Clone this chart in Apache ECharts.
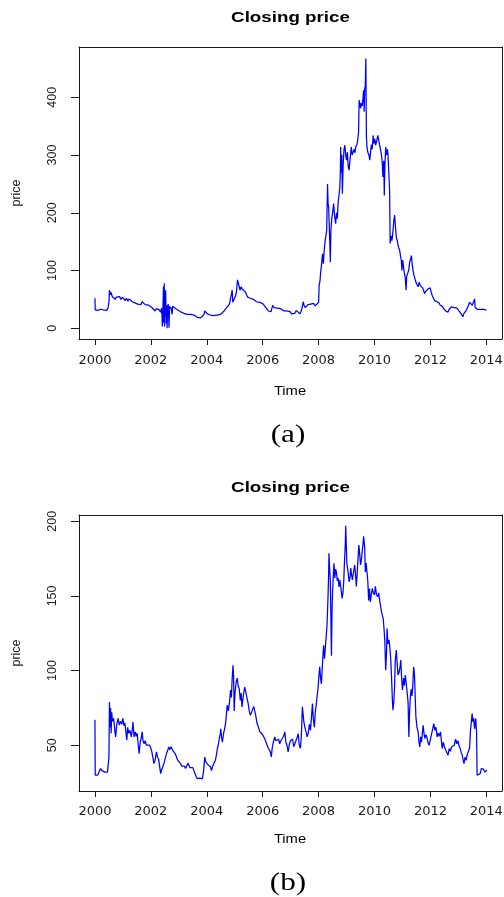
<!DOCTYPE html>
<html>
<head>
<meta charset="utf-8">
<title>Closing price</title>
<script src="https://cdn.jsdelivr.net/npm/echarts@6/dist/echarts.min.js"></script>
<style>
  html, body { margin: 0; padding: 0; background: #fff; }
  #chart { width: 504px; height: 897px; }
</style>
</head>
<body>
<div id="chart"></div>
<script>
// Tick values for the two panels
const yearTicks = [2000, 2002, 2004, 2006, 2008, 2010, 2012, 2014];
const priceTicksA = [0, 100, 200, 300, 400];
const priceTicksB = [50, 100, 150, 200];

// Panel (a): closing price, [year, price]
const closeA = [
  [2000.00, 52], [2000.01, 32], [2000.05, 33], [2000.10, 31], [2000.15, 34], [2000.20, 33],
  [2000.25, 35], [2000.30, 32], [2000.36, 30], [2000.42, 31], [2000.47, 36], [2000.50, 45],
  [2000.52, 66], [2000.55, 58], [2000.58, 62], [2000.62, 55], [2000.67, 57], [2000.72, 50],
  [2000.76, 54], [2000.82, 52], [2000.88, 55], [2000.93, 50], [2000.98, 54], [2001.04, 53],
  [2001.08, 48], [2001.13, 52], [2001.18, 47], [2001.23, 51], [2001.28, 49], [2001.33, 46],
  [2001.38, 49], [2001.43, 44], [2001.48, 46], [2001.53, 42], [2001.58, 44], [2001.64, 41],
  [2001.69, 46], [2001.74, 43], [2001.80, 41], [2001.86, 38], [2001.92, 40], [2001.98, 37],
  [2002.04, 36], [2002.10, 33], [2002.15, 30], [2002.20, 34], [2002.25, 36], [2002.30, 32],
  [2002.35, 28], [2002.38, 35], [2002.40, 21], [2002.41, 3], [2002.43, 30], [2002.45, 72],
  [2002.46, 10], [2002.48, 78], [2002.49, 3], [2002.50, 60], [2002.51, 20], [2002.53, 66],
  [2002.55, 8], [2002.57, 40], [2002.58, 0], [2002.60, 34], [2002.62, 42], [2002.65, 1],
  [2002.67, 38], [2002.70, 36], [2002.73, 34], [2002.76, 24], [2002.78, 38], [2002.85, 35],
  [2002.92, 33], [2002.99, 31], [2003.05, 29], [2003.12, 27], [2003.18, 26], [2003.24, 27],
  [2003.30, 24], [2003.36, 25], [2003.42, 24], [2003.48, 25], [2003.54, 23], [2003.60, 21],
  [2003.66, 19], [2003.72, 20], [2003.78, 18], [2003.84, 20], [2003.90, 24], [2003.93, 30],
  [2003.97, 27], [2004.02, 25], [2004.08, 26], [2004.13, 23], [2004.19, 24], [2004.25, 22],
  [2004.31, 24], [2004.37, 23], [2004.43, 25], [2004.49, 24], [2004.55, 26], [2004.60, 29],
  [2004.65, 32], [2004.70, 35], [2004.76, 38], [2004.81, 42], [2004.86, 40], [2004.91, 66],
  [2004.93, 45], [2004.97, 48], [2005.02, 55], [2005.06, 62], [2005.10, 84], [2005.13, 87],
  [2005.16, 72], [2005.19, 66], [2005.23, 72], [2005.27, 68], [2005.31, 70], [2005.36, 64],
  [2005.41, 60], [2005.46, 54], [2005.50, 57], [2005.56, 52], [2005.62, 55], [2005.67, 50],
  [2005.72, 48], [2005.78, 46], [2005.84, 44], [2005.90, 45], [2005.96, 43], [2006.02, 42],
  [2006.08, 38], [2006.14, 34], [2006.20, 30], [2006.25, 28], [2006.30, 29], [2006.36, 40],
  [2006.40, 36], [2006.46, 38], [2006.52, 35], [2006.58, 37], [2006.64, 34], [2006.70, 32],
  [2006.76, 30], [2006.80, 28], [2006.86, 30], [2006.92, 27], [2006.98, 29], [2007.03, 25],
  [2007.09, 28], [2007.15, 26], [2007.20, 31], [2007.26, 28], [2007.33, 25], [2007.38, 30],
  [2007.42, 38], [2007.45, 46], [2007.48, 40], [2007.52, 36], [2007.57, 38], [2007.62, 41],
  [2007.67, 39], [2007.72, 42], [2007.77, 40], [2007.82, 43], [2007.88, 39], [2007.94, 37],
  [2008.00, 45], [2008.02, 75], [2008.05, 82], [2008.07, 95], [2008.10, 108], [2008.12, 118],
  [2008.14, 129], [2008.17, 112], [2008.20, 135], [2008.23, 150], [2008.26, 147], [2008.29, 170],
  [2008.32, 250], [2008.34, 215], [2008.36, 210], [2008.38, 180], [2008.40, 150], [2008.42, 115],
  [2008.44, 170], [2008.47, 190], [2008.50, 200], [2008.54, 216], [2008.57, 195], [2008.61, 181],
  [2008.64, 200], [2008.67, 190], [2008.70, 219], [2008.73, 230], [2008.76, 245], [2008.78, 275],
  [2008.79, 314], [2008.81, 270], [2008.83, 300], [2008.85, 233], [2008.88, 285], [2008.91, 310],
  [2008.94, 317], [2008.97, 300], [2009.00, 291], [2009.03, 305], [2009.06, 280], [2009.09, 274],
  [2009.12, 290], [2009.15, 305], [2009.17, 314], [2009.20, 300], [2009.23, 298], [2009.27, 310],
  [2009.30, 304], [2009.33, 314], [2009.37, 318], [2009.40, 326], [2009.43, 340], [2009.45, 395],
  [2009.48, 388], [2009.50, 381], [2009.53, 390], [2009.56, 385], [2009.59, 400], [2009.61, 412],
  [2009.63, 375], [2009.65, 415], [2009.67, 420], [2009.69, 467], [2009.70, 400], [2009.71, 332],
  [2009.73, 314], [2009.76, 305], [2009.80, 300], [2009.83, 291], [2009.86, 305], [2009.89, 318],
  [2009.92, 310], [2009.95, 334], [2009.98, 320], [2010.01, 328], [2010.04, 317], [2010.08, 325],
  [2010.12, 334], [2010.15, 326], [2010.18, 318], [2010.22, 308], [2010.25, 300], [2010.28, 285],
  [2010.30, 262], [2010.33, 290], [2010.35, 230], [2010.37, 280], [2010.40, 314], [2010.43, 300],
  [2010.46, 310], [2010.48, 303], [2010.51, 300], [2010.54, 239], [2010.56, 147], [2010.59, 160],
  [2010.62, 152], [2010.64, 158], [2010.67, 175], [2010.70, 190], [2010.72, 196], [2010.75, 175],
  [2010.78, 158], [2010.82, 150], [2010.86, 140], [2010.90, 135], [2010.93, 125], [2010.96, 117],
  [2010.98, 100], [2011.01, 118], [2011.04, 105], [2011.07, 95], [2011.10, 88], [2011.13, 66],
  [2011.15, 90], [2011.18, 89], [2011.22, 100], [2011.26, 115], [2011.29, 120], [2011.32, 126],
  [2011.35, 110], [2011.38, 100], [2011.41, 92], [2011.44, 89], [2011.48, 80], [2011.52, 76],
  [2011.56, 72], [2011.60, 80], [2011.64, 74], [2011.68, 77], [2011.72, 70], [2011.76, 65],
  [2011.79, 60], [2011.83, 64], [2011.87, 62], [2011.91, 68], [2011.95, 66], [2011.99, 70],
  [2012.03, 62], [2012.07, 56], [2012.11, 52], [2012.15, 48], [2012.19, 50], [2012.23, 46],
  [2012.27, 43], [2012.31, 44], [2012.35, 40], [2012.39, 37], [2012.43, 38], [2012.47, 34],
  [2012.51, 31], [2012.55, 30], [2012.59, 32], [2012.63, 28], [2012.67, 33], [2012.71, 35],
  [2012.75, 37], [2012.80, 35], [2012.85, 36], [2012.90, 34], [2012.95, 35], [2012.98, 34],
  [2013.02, 30], [2013.06, 28], [2013.10, 25], [2013.14, 22], [2013.16, 20], [2013.19, 25],
  [2013.23, 28], [2013.28, 31], [2013.32, 35], [2013.36, 40], [2013.40, 45], [2013.43, 42],
  [2013.46, 44], [2013.50, 40], [2013.54, 42], [2013.58, 51], [2013.60, 36], [2013.63, 34],
  [2013.68, 33], [2013.74, 35], [2013.80, 33], [2013.86, 32], [2013.92, 33], [2013.97, 31],
  [2014.00, 31]
];

// Panel (b): closing price, [year, price]
const closeB = [
  [2000.00, 67], [2000.01, 30], [2000.05, 29.5], [2000.10, 30], [2000.15, 31], [2000.20, 34.4],
  [2000.25, 33], [2000.30, 34], [2000.35, 32], [2000.40, 33], [2000.45, 32], [2000.48, 38],
  [2000.50, 42], [2000.52, 79], [2000.54, 62], [2000.56, 75], [2000.58, 58], [2000.60, 72],
  [2000.63, 66], [2000.67, 68], [2000.71, 60], [2000.74, 55.6], [2000.78, 64], [2000.83, 68],
  [2000.87, 63.6], [2000.92, 66], [2000.96, 64], [2001.00, 68], [2001.04, 63], [2001.07, 65],
  [2001.10, 60], [2001.14, 53.4], [2001.17, 62], [2001.21, 58], [2001.25, 60], [2001.30, 55.6],
  [2001.34, 61], [2001.36, 65.6], [2001.40, 55.6], [2001.44, 59], [2001.48, 56], [2001.51, 58],
  [2001.55, 50], [2001.58, 44.4], [2001.62, 52], [2001.66, 55], [2001.69, 59], [2001.72, 53],
  [2001.76, 51], [2001.80, 53], [2001.84, 50], [2001.87, 51], [2001.91, 49], [2001.95, 50],
  [2001.99, 48.6], [2002.03, 46], [2002.07, 42], [2002.11, 37.7], [2002.15, 40], [2002.20, 45.5],
  [2002.24, 42], [2002.28, 40.5], [2002.32, 35], [2002.35, 31], [2002.39, 34], [2002.43, 35.6],
  [2002.47, 38], [2002.50, 40], [2002.53, 42.4], [2002.57, 45], [2002.61, 47], [2002.64, 48.9],
  [2002.68, 47], [2002.72, 49], [2002.76, 48.9], [2002.80, 46], [2002.84, 45], [2002.88, 44],
  [2002.92, 42], [2002.96, 40], [2003.01, 39], [2003.06, 37.7], [2003.10, 36], [2003.15, 35],
  [2003.20, 36], [2003.24, 34.4], [2003.28, 36], [2003.33, 38], [2003.36, 37.7], [2003.40, 35],
  [2003.45, 34], [2003.50, 35], [2003.54, 33], [2003.58, 31], [2003.62, 29], [2003.66, 27.6],
  [2003.70, 28.5], [2003.75, 28], [2003.80, 27], [2003.84, 27.5], [2003.88, 32], [2003.91, 38],
  [2003.93, 42], [2003.96, 39], [2004.00, 40], [2004.04, 37], [2004.09, 38], [2004.13, 35.6],
  [2004.17, 33], [2004.21, 36], [2004.26, 38], [2004.31, 40], [2004.35, 44], [2004.38, 48],
  [2004.41, 50], [2004.45, 55], [2004.48, 57], [2004.50, 61], [2004.53, 55], [2004.56, 52],
  [2004.60, 58], [2004.64, 61], [2004.68, 66], [2004.71, 72], [2004.73, 76.8], [2004.77, 73],
  [2004.81, 78], [2004.85, 87], [2004.88, 82], [2004.91, 95], [2004.94, 103.6], [2004.96, 96],
  [2004.98, 73], [2005.01, 85], [2005.05, 92], [2005.09, 95], [2005.12, 90], [2005.16, 88],
  [2005.20, 80], [2005.23, 85], [2005.26, 75.7], [2005.30, 82], [2005.33, 86], [2005.36, 89],
  [2005.40, 88], [2005.44, 81.6], [2005.48, 78], [2005.52, 73], [2005.56, 70], [2005.60, 72],
  [2005.64, 74], [2005.68, 76], [2005.71, 75], [2005.75, 70], [2005.80, 64.5], [2005.85, 62],
  [2005.90, 59], [2005.95, 60], [2006.00, 57], [2006.04, 56], [2006.08, 54], [2006.12, 52],
  [2006.16, 50], [2006.20, 48], [2006.25, 46.6], [2006.28, 45], [2006.31, 42.2], [2006.34, 48],
  [2006.38, 52], [2006.43, 55.6], [2006.47, 53], [2006.52, 52], [2006.57, 54], [2006.61, 51],
  [2006.65, 53], [2006.70, 54], [2006.75, 56], [2006.79, 59], [2006.83, 52], [2006.87, 50],
  [2006.91, 45.5], [2006.95, 50], [2006.99, 53], [2007.03, 52], [2007.07, 54], [2007.11, 49],
  [2007.15, 51], [2007.19, 53], [2007.23, 55], [2007.27, 57.8], [2007.31, 50], [2007.35, 48],
  [2007.38, 55], [2007.42, 75.7], [2007.44, 72], [2007.47, 66], [2007.51, 62], [2007.55, 59],
  [2007.59, 55.6], [2007.63, 58], [2007.67, 64], [2007.71, 60], [2007.75, 70], [2007.78, 78],
  [2007.81, 68], [2007.85, 62], [2007.88, 72], [2007.92, 78], [2007.95, 83.5], [2007.98, 88],
  [2008.01, 96], [2008.04, 102.5], [2008.07, 95], [2008.10, 91], [2008.14, 105], [2008.18, 117],
  [2008.21, 108], [2008.24, 115], [2008.27, 122.6], [2008.30, 130], [2008.32, 140], [2008.34, 151.7],
  [2008.36, 165], [2008.37, 178.6], [2008.39, 170], [2008.42, 159.5], [2008.44, 135], [2008.46, 110],
  [2008.48, 140], [2008.50, 153], [2008.53, 165], [2008.55, 171.9], [2008.58, 162], [2008.61, 168],
  [2008.64, 165.6], [2008.67, 160], [2008.70, 162], [2008.73, 156], [2008.76, 160.7], [2008.80, 155],
  [2008.84, 148.4], [2008.87, 151.7], [2008.90, 160], [2008.93, 175], [2008.95, 182], [2008.97, 197],
  [2008.99, 185], [2009.01, 171.9], [2009.04, 168], [2009.06, 165], [2009.09, 159.5], [2009.12, 162],
  [2009.15, 168.6], [2009.18, 164], [2009.21, 160.7], [2009.25, 166], [2009.29, 170.7], [2009.32, 165],
  [2009.35, 156.4], [2009.38, 165], [2009.41, 175], [2009.44, 184], [2009.47, 178], [2009.50, 170.7],
  [2009.53, 174], [2009.56, 179.8], [2009.59, 185], [2009.61, 190], [2009.63, 190.8], [2009.65, 182],
  [2009.67, 166], [2009.70, 172], [2009.73, 170.7], [2009.76, 160], [2009.79, 147], [2009.82, 155],
  [2009.85, 146], [2009.88, 150], [2009.92, 155], [2009.96, 152], [2010.00, 150.6], [2010.03, 156.5],
  [2010.07, 151], [2010.11, 149.5], [2010.15, 152], [2010.19, 146], [2010.22, 143], [2010.25, 139.3],
  [2010.28, 137], [2010.31, 135], [2010.34, 128], [2010.37, 119.3], [2010.40, 100.3], [2010.43, 112],
  [2010.45, 128.2], [2010.48, 118], [2010.52, 120.6], [2010.55, 115], [2010.58, 108], [2010.61, 95],
  [2010.64, 80], [2010.66, 73.5], [2010.69, 79], [2010.72, 90], [2010.74, 106], [2010.78, 113.7],
  [2010.81, 105], [2010.84, 97], [2010.88, 99], [2010.91, 102], [2010.94, 107], [2010.97, 95],
  [2011.00, 87], [2011.04, 95], [2011.07, 90], [2011.10, 97], [2011.13, 92], [2011.17, 85],
  [2011.20, 79], [2011.23, 55.6], [2011.25, 70], [2011.28, 82], [2011.31, 87.5], [2011.34, 83],
  [2011.37, 90], [2011.40, 102.5], [2011.43, 97], [2011.46, 80], [2011.48, 69], [2011.52, 62],
  [2011.56, 59], [2011.59, 52], [2011.62, 48.9], [2011.65, 55.6], [2011.68, 52], [2011.71, 58],
  [2011.74, 63.4], [2011.77, 58], [2011.80, 54.5], [2011.84, 57], [2011.88, 55], [2011.91, 52],
  [2011.95, 50], [2011.99, 53], [2012.03, 56.7], [2012.07, 60], [2012.12, 64.5], [2012.16, 60],
  [2012.20, 62], [2012.24, 55.6], [2012.28, 58], [2012.32, 56], [2012.36, 59], [2012.39, 59],
  [2012.42, 47.8], [2012.46, 52], [2012.50, 49], [2012.54, 47], [2012.58, 46], [2012.63, 43.3],
  [2012.67, 47.8], [2012.71, 46], [2012.76, 49], [2012.80, 48], [2012.85, 50], [2012.90, 54],
  [2012.94, 51], [2012.98, 53], [2013.02, 50], [2013.06, 48], [2013.10, 45], [2013.14, 43.3],
  [2013.17, 40], [2013.20, 37.7], [2013.24, 42], [2013.28, 40], [2013.32, 44], [2013.36, 43],
  [2013.40, 48], [2013.43, 59], [2013.46, 65], [2013.49, 71.3], [2013.52, 65.7], [2013.55, 68],
  [2013.58, 61], [2013.62, 67.9], [2013.65, 59], [2013.67, 29.9], [2013.70, 30], [2013.74, 29.5],
  [2013.78, 31], [2013.82, 34.4], [2013.86, 33.3], [2013.90, 34], [2013.94, 32], [2013.98, 33],
  [2014.02, 33.3]
];

const INK = '#1a1a1a';
const LINE_BLUE = '#0000ff';
const X_MIN = 1999.43;
const X_MAX = 2014.56;

function xAxisFor(gridIndex, labelMargin) {
  return {
    type: 'value',
    gridIndex: gridIndex,
    position: 'bottom',
    min: X_MIN,
    max: X_MAX,
    splitLine: { show: false },
    axisLine: { show: true, onZero: false, lineStyle: { color: INK, width: 1 } },
    axisTick: { show: true, length: 6, customValues: yearTicks, lineStyle: { color: INK } },
    axisLabel: {
      customValues: yearTicks,
      formatter: function (v) { return String(v); },
      margin: labelMargin,
      fontFamily: 'DejaVu Sans',
      fontSize: 13,
      color: INK
    }
  };
}

// Plain edges that close the plot frame on the top and right sides
function frameX(gridIndex) {
  return {
    type: 'value', gridIndex: gridIndex, position: 'top', min: X_MIN, max: X_MAX,
    splitLine: { show: false }, axisTick: { show: false }, axisLabel: { show: false },
    axisLine: { show: true, onZero: false, lineStyle: { color: INK, width: 1 } }
  };
}
function frameY(gridIndex, min, max) {
  return {
    type: 'value', gridIndex: gridIndex, position: 'right', min: min, max: max,
    splitLine: { show: false }, axisTick: { show: false }, axisLabel: { show: false },
    axisLine: { show: true, onZero: false, lineStyle: { color: INK, width: 1 } }
  };
}

// Left price axis: labels come from the axis' own nice ticks (interval 100 / 50),
// the unrounded extent labels at both ends are hidden.
function yAxisFor(gridIndex, min, max, ticks, splitNumber) {
  return {
    type: 'value',
    gridIndex: gridIndex,
    position: 'left',
    min: min,
    max: max,
    splitNumber: splitNumber,
    splitLine: { show: false },
    axisLine: { show: true, onZero: false, lineStyle: { color: INK, width: 1 } },
    axisTick: { show: true, length: 8, customValues: ticks, lineStyle: { color: INK } },
    axisLabel: {
      formatter: function (v) { return String(v); },
      rotate: 90,
      margin: 20,
      fontFamily: 'Liberation Sans',
      fontSize: 12.5,
      color: INK,
      showMinLabel: false,
      showMaxLabel: false
    },
    name: 'price',
    nameLocation: 'middle',
    nameGap: 56,
    nameRotate: 90,
    nameTextStyle: { fontFamily: 'Liberation Sans', fontSize: 12.5, color: INK }
  };
}

function label(text, x, y, font, scaleX) {
  return {
    type: 'text',
    x: x,
    y: y,
    scaleX: scaleX,
    silent: true,
    style: {
      text: text,
      font: font,
      fill: '#000',
      align: 'center',
      verticalAlign: 'middle'
    }
  };
}

const gridBase = {
  left: 79,
  width: 423,
  show: false,
  containLabel: false,
  outerBoundsMode: 'none'
};

const option = {
  animation: false,
  backgroundColor: '#fff',
  grid: [
    Object.assign({ top: 47, height: 292 }, gridBase),
    Object.assign({ top: 515, height: 276 }, gridBase)
  ],
  xAxis: [xAxisFor(0, 15), xAxisFor(1, 14), frameX(0), frameX(1)],
  yAxis: [
    yAxisFor(0, -18.5, 487.1, priceTicksA, 5),
    yAxisFor(1, 19.35, 204.2, priceTicksB, 4),
    frameY(0, -18.5, 487.1),
    frameY(1, 19.35, 204.2)
  ],
  series: [
    {
      type: 'line',
      xAxisIndex: 0,
      yAxisIndex: 0,
      data: closeA,
      symbol: 'none',
      lineStyle: { color: LINE_BLUE, width: 1.25 },
      silent: true
    },
    {
      type: 'line',
      xAxisIndex: 1,
      yAxisIndex: 1,
      data: closeB,
      symbol: 'none',
      lineStyle: { color: LINE_BLUE, width: 1.25 },
      silent: true
    }
  ],
  graphic: [
    label('Closing price', 290.5, 18, 'bold 15px "Liberation Sans"', 1.25),
    label('Time', 290, 392, '12.5px "Liberation Sans"', 1.18),
    label('(a)', 288, 435, '26px "Liberation Serif"', 1.2),
    label('Closing price', 290.5, 487.5, 'bold 15px "Liberation Sans"', 1.25),
    label('Time', 290, 840, '12.5px "Liberation Sans"', 1.18),
    label('(b)', 288, 883, '26px "Liberation Serif"', 1.2)
  ]
};

const chart = echarts.init(document.getElementById('chart'), null, { renderer: 'canvas' });
chart.setOption(option);
</script>
</body>
</html>
